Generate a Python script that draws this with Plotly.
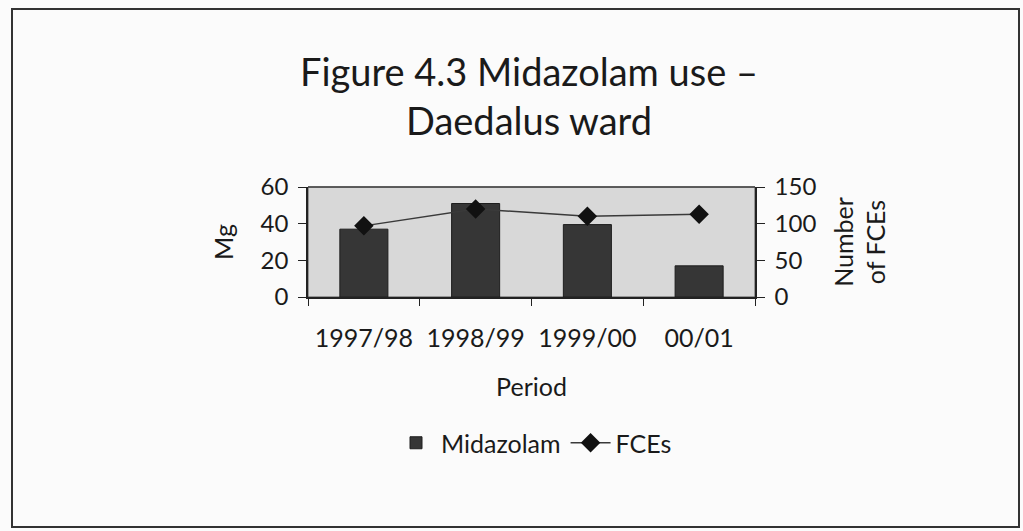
import plotly.graph_objects as go

periods = ["1997/98", "1998/99", "1999/00", "00/01"]
midazolam_mg = [37, 51, 39.5, 17]
fces = [97, 120, 110, 113]

FONT = "Lato"
L, R, T, B = 308, 268, 187, 234
W, H = 1023, 531
PW, PH = W - L - R, H - T - B

fig = go.Figure()
fig.add_trace(go.Bar(
    x=periods, y=midazolam_mg, name="Midazolam",
    marker=dict(color="#363636", line=dict(color="#1e1e1e", width=1)),
    width=0.43, yaxis="y",
))
fig.add_trace(go.Scatter(
    x=periods, y=fces, name="FCEs", mode="lines+markers",
    line=dict(color="#3a3a3a", width=1.5),
    marker=dict(symbol="diamond", size=15, color="#111111"),
    yaxis="y2",
))

fig.update_layout(
    width=W, height=H,
    margin=dict(l=L, r=R, t=T, b=B),
    paper_bgcolor="#fbfbfb",
    plot_bgcolor="#d8d8d8",
    font=dict(family=FONT, size=25, color="#1a1a1a"),
    title=dict(
        text="Figure 4.3 Midazolam use –<br>Daedalus ward",
        x=(529) / W, xanchor="center", y=0.838, yanchor="middle",
        font=dict(family=FONT, size=38, color="#1a1a1a"),
    ),
    showlegend=True,
    legend=dict(
        orientation="h", x=(534 - L) / PW, xanchor="center",
        y=(H - B - 443) / PH, yanchor="middle",
        font=dict(family=FONT, size=25), bgcolor="rgba(0,0,0,0)",
        itemwidth=40,
    ),
    xaxis=dict(
        type="category", showline=True, linecolor="#222", linewidth=1.5,
        ticks="outside", tickson="boundaries", ticklen=7, tickcolor="#222",
        ticklabelstandoff=18, showgrid=False,
        tickfont=dict(size=25),
        title=dict(text="Period", standoff=28, font=dict(size=25)),
    ),
    yaxis=dict(
        range=[0, 60], tickvals=[0, 20, 40, 60], showgrid=False,
        showline=True, linecolor="#222", linewidth=1.5,
        ticks="outside", ticklen=8, tickcolor="#222",
        ticklabelstandoff=5,
        tickfont=dict(size=24),
        title=dict(text="Mg", standoff=20, font=dict(size=25)),
        zeroline=False,
    ),
    yaxis2=dict(
        range=[0, 150], tickvals=[0, 50, 100, 150], overlaying="y", side="right",
        showgrid=False, showline=True, linecolor="#222", linewidth=1.5,
        ticks="outside", ticklen=8, tickcolor="#222",
        ticklabelstandoff=5,
        tickfont=dict(size=24),
        title=dict(text="Number<br>of FCEs", standoff=20, font=dict(size=25)),
        zeroline=False,
    ),
    shapes=[
        dict(type="rect", xref="paper", yref="paper", x0=0, x1=1, y0=0, y1=1,
             line=dict(color="#555", width=1), layer="below"),
        dict(type="line", xref="paper", yref="paper", x0=0, x1=1, y0=1, y1=1,
             line=dict(color="#444", width=1.5)),
        # outer frame of the whole figure
        dict(type="rect", xref="paper", yref="paper",
             x0=(12 - L) / PW, x1=(1019 - L) / PW,
             y0=(H - B - 527) / PH, y1=(H - B - 9) / PH,
             line=dict(color="#333", width=2)),
    ],
)

fig.write_html("out.html", config={"displayModeBar": False},
               post_script="document.body.style.margin='0px';")
